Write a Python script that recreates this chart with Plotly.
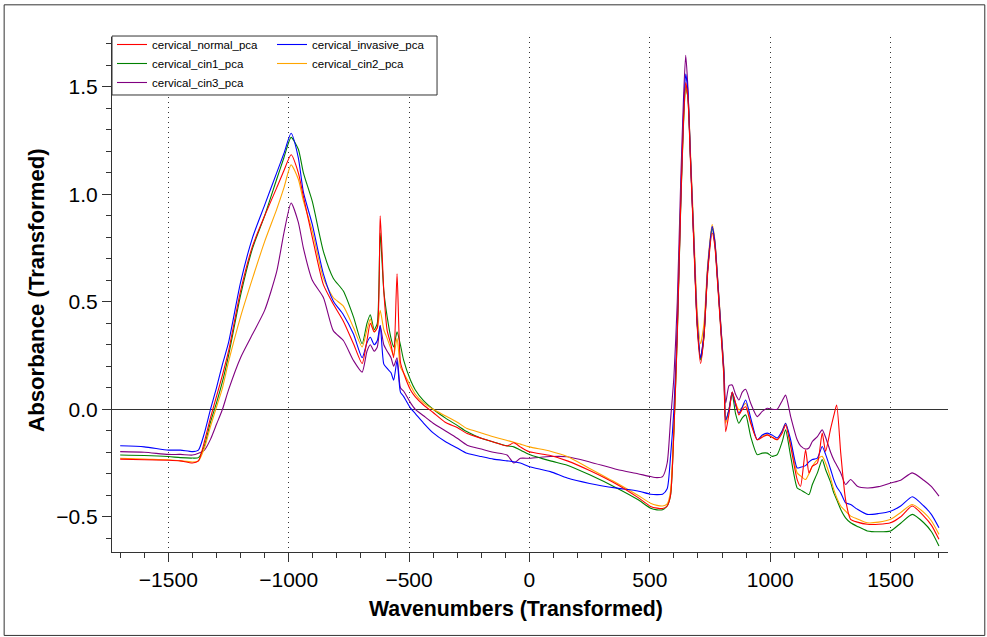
import plotly.graph_objects as go

# ---------------- data ----------------
WAVENUMBER = [
    -1700, -1600, -1500, -1450, -1400, -1375, -1350, -1325, -1300, -1275,
    -1250, -1200, -1150, -1100, -1050, -1020, -990, -960, -939, -902,
    -856, -815, -773, -731, -695, -675, -661, -645, -632, -620,
    -605, -591, -575, -564, -550, -536, -523, -494, -474, -440,
    -400, -350, -300, -259, -200, -150, -93, -65, -38, 0,
    87, 157, 250, 364, 450, 503, 530, 553, 572, 586,
    600, 614, 628, 640, 649, 658, 669, 683, 697, 711,
    725, 740, 759, 770, 780, 794, 808, 815, 829, 842,
    856, 870, 884, 898, 919, 946, 967, 988, 1008, 1029,
    1050, 1064, 1085, 1112, 1126, 1147, 1161, 1175, 1196, 1216,
    1230, 1251, 1264, 1276, 1293, 1313, 1334, 1362, 1403, 1450,
    1500, 1542, 1590, 1638, 1670, 1701,
]

CERVICAL_NORMAL = [
    -0.232, -0.235, -0.237, -0.24, -0.25, -0.24, -0.15, -0.04, 0.06, 0.16,
    0.27, 0.55, 0.76, 0.90, 1.03, 1.11, 1.184, 1.10, 0.99, 0.80,
    0.58, 0.49, 0.41, 0.305, 0.213, 0.32, 0.40, 0.36, 0.38, 0.90,
    0.55, 0.366, 0.30, 0.24, 0.63, 0.22, 0.17, 0.09, 0.058, 0.02,
    -0.015, -0.06, -0.085, -0.113, -0.135, -0.152, -0.171, -0.156, -0.175, -0.198,
    -0.215, -0.24, -0.285, -0.35, -0.41, -0.452, -0.46, -0.462, -0.45, -0.40,
    -0.10, 0.35, 0.94, 1.35, 1.52, 1.45, 1.15, 0.76, 0.38, 0.213,
    0.34, 0.63, 0.82, 0.76, 0.61, 0.38, 0.14, -0.104, -0.02, 0.08,
    0.03, -0.026, 0.0, 0.012, -0.065, -0.142, -0.13, -0.119, -0.13, -0.142,
    -0.11, -0.073, -0.173, -0.327, -0.358, -0.188, -0.296, -0.265, -0.25, -0.111,
    -0.196, -0.09, -0.03, 0.02, -0.204, -0.42, -0.512, -0.525, -0.535, -0.535,
    -0.528, -0.50, -0.45, -0.497, -0.54, -0.605,
]

CERVICAL_INVASIVE = [
    -0.170, -0.175, -0.19, -0.19, -0.197, -0.19, -0.11, 0.0, 0.10, 0.21,
    0.31, 0.59, 0.80, 0.95, 1.10, 1.19, 1.284, 1.17, 1.01, 0.86,
    0.63, 0.504, 0.44, 0.35, 0.24, 0.31, 0.335, 0.30, 0.32, 0.39,
    0.21, 0.19, 0.17, 0.135, 0.227, 0.08, 0.06, 0.005, -0.02, -0.064,
    -0.11, -0.15, -0.18, -0.205, -0.22, -0.232, -0.24, -0.244, -0.25, -0.267,
    -0.29, -0.32, -0.345, -0.367, -0.38, -0.395, -0.397, -0.395, -0.37, -0.22,
    0.0, 0.38, 0.96, 1.38, 1.56, 1.48, 1.17, 0.78, 0.40, 0.24,
    0.35, 0.65, 0.85, 0.78, 0.63, 0.40, 0.167, -0.05, 0.0, 0.08,
    0.02, -0.018, 0.01, 0.043, -0.04, -0.142, -0.12, -0.111, -0.12, -0.134,
    -0.10, -0.065, -0.142, -0.273, -0.27, -0.262, -0.245, -0.234, -0.227, -0.173,
    -0.21, -0.28, -0.327, -0.36, -0.389, -0.435, -0.443, -0.465, -0.489, -0.485,
    -0.474, -0.45, -0.407, -0.45, -0.49, -0.551,
]

CERVICAL_CIN1 = [
    -0.213, -0.215, -0.22, -0.225, -0.227, -0.225, -0.17, -0.06, 0.03, 0.13,
    0.25, 0.53, 0.75, 0.90, 1.07, 1.17, 1.265, 1.21, 1.10, 0.967,
    0.735, 0.61, 0.55, 0.43, 0.305, 0.40, 0.44, 0.37, 0.40, 0.82,
    0.55, 0.43, 0.33, 0.29, 0.36, 0.30, 0.23, 0.135, 0.09, 0.04,
    0.0, -0.04, -0.075, -0.105, -0.135, -0.152, -0.17, -0.175, -0.19, -0.21,
    -0.24, -0.26, -0.305, -0.367, -0.42, -0.46, -0.468, -0.467, -0.45, -0.40,
    -0.10, 0.34, 0.93, 1.33, 1.50, 1.45, 1.16, 0.78, 0.39, 0.23,
    0.34, 0.64, 0.84, 0.77, 0.62, 0.39, 0.16, -0.05, 0.0, 0.074,
    -0.02, -0.065, -0.04, -0.026, -0.127, -0.211, -0.204, -0.204, -0.219, -0.211,
    -0.15, -0.096, -0.219, -0.366, -0.375, -0.389, -0.397, -0.35, -0.296, -0.234,
    -0.28, -0.34, -0.389, -0.42, -0.466, -0.505, -0.528, -0.545, -0.566, -0.57,
    -0.566, -0.53, -0.489, -0.528, -0.57, -0.636,
]

CERVICAL_CIN2 = [
    -0.228, -0.232, -0.235, -0.24, -0.245, -0.24, -0.18, -0.08, 0.01, 0.10,
    0.22, 0.43, 0.61, 0.78, 0.93, 1.03, 1.137, 1.07, 0.97, 0.83,
    0.61, 0.52, 0.48, 0.38, 0.29, 0.37, 0.42, 0.36, 0.38, 0.46,
    0.37, 0.33, 0.28, 0.25, 0.33, 0.196, 0.17, 0.11, 0.07, 0.03,
    0.0, -0.03, -0.06, -0.09, -0.11, -0.128, -0.145, -0.153, -0.162, -0.175,
    -0.195, -0.22, -0.275, -0.344, -0.40, -0.437, -0.447, -0.45, -0.44, -0.38,
    -0.08, 0.36, 0.95, 1.34, 1.50, 1.46, 1.19, 0.82, 0.45, 0.305,
    0.40, 0.67, 0.86, 0.79, 0.64, 0.41, 0.18, -0.065, 0.0, 0.08,
    0.03, -0.003, 0.01, 0.028, -0.057, -0.142, -0.125, -0.119, -0.13, -0.142,
    -0.10, -0.065, -0.157, -0.296, -0.31, -0.327, -0.30, -0.265, -0.234, -0.219,
    -0.25, -0.32, -0.373, -0.41, -0.45, -0.474, -0.497, -0.51, -0.528, -0.525,
    -0.512, -0.48, -0.443, -0.48, -0.52, -0.582,
]

CERVICAL_CIN3 = [
    -0.197, -0.20, -0.21, -0.21, -0.213, -0.205, -0.19, -0.14, -0.07, 0.0,
    0.09, 0.24, 0.35, 0.46, 0.64, 0.82, 0.96, 0.87, 0.75, 0.60,
    0.52, 0.366, 0.32, 0.227, 0.173, 0.27, 0.30, 0.27, 0.29, 0.39,
    0.30, 0.27, 0.24, 0.20, 0.24, 0.10, 0.085, 0.03, 0.0, -0.03,
    -0.065, -0.10, -0.135, -0.167, -0.185, -0.20, -0.213, -0.25, -0.228, -0.228,
    -0.22, -0.221, -0.245, -0.28, -0.30, -0.313, -0.318, -0.313, -0.25, -0.05,
    0.15, 0.50, 1.05, 1.45, 1.647, 1.50, 1.17, 0.78, 0.40, 0.24,
    0.35, 0.65, 0.85, 0.78, 0.63, 0.40, 0.18, 0.028, 0.11, 0.113,
    0.07, 0.043, 0.08, 0.093, 0.028, -0.034, -0.01, 0.005, 0.0, 0.0,
    0.04, 0.066, -0.034, -0.142, -0.17, -0.185, -0.18, -0.15, -0.127, -0.096,
    -0.13, -0.20, -0.235, -0.26, -0.296, -0.35, -0.327, -0.358, -0.366, -0.36,
    -0.343, -0.33, -0.296, -0.33, -0.36, -0.404,
]

SERIES_NAMES = ["cervical_normal_pca", "cervical_invasive_pca", "cervical_cin1_pca",
                "cervical_cin2_pca", "cervical_cin3_pca"]
SERIES_VALUES = [CERVICAL_NORMAL, CERVICAL_INVASIVE, CERVICAL_CIN1,
                 CERVICAL_CIN2, CERVICAL_CIN3]
SERIES_COLORS = ["#ff0000", "#0000ff", "#008000", "#ffa500", "#800080"]
SERIES_LEGEND = ["legend", "legend2", "legend", "legend2", "legend"]

X_TICK_VALUES = [-1500, -1000, -500, 0, 500, 1000, 1500]
X_TICK_LABELS = ["\u22121500", "\u22121000", "\u2212500", "0", "500", "1000", "1500"]
Y_TICK_VALUES = [-0.5, 0.0, 0.5, 1.0, 1.5]
Y_TICK_LABELS = ["\u22120.5", "0.0", "0.5", "1.0", "1.5"]

for v in SERIES_VALUES:
    assert len(v) == len(WAVENUMBER), (len(v), len(WAVENUMBER))

# ---------------- figure ----------------
FONT = "Liberation Sans, Arial, sans-serif"
X_RANGE = [-1734, 1738.5]
Y_RANGE = [-0.664, 1.732]

fig = go.Figure()
draw_order = [4, 2, 3, 1, 0]  # normal (red) drawn last, on top
for i in draw_order:
    fig.add_trace(go.Scatter(
        x=WAVENUMBER, y=SERIES_VALUES[i], mode="lines", name=SERIES_NAMES[i],
        line=dict(color=SERIES_COLORS[i], width=1.1, shape="spline", smoothing=0.6),
        legendrank=i + 1, legend=SERIES_LEGEND[i],
    ))

axis_common = dict(tickcolor="#333", tickwidth=1, showgrid=False, zeroline=False)
legend_common = dict(
    orientation="v", y=1.0136, yanchor="top", xanchor="left",
    bgcolor="rgba(0,0,0,0)", borderwidth=0,
    font=dict(family=FONT, size=11.5, color="black"),
    itemwidth=30, traceorder="normal", tracegroupgap=0,
)

fig.update_layout(
    width=987, height=637,
    margin=dict(l=112, r=39, t=37, b=85, pad=0),
    paper_bgcolor="white", plot_bgcolor="white",
    font=dict(family=FONT, color="black"),
    showlegend=True,
    legend=dict(x=0.0, **legend_common),
    legend2=dict(x=0.1914, **legend_common),
    xaxis=dict(
        range=X_RANGE, tickmode="array", tickvals=X_TICK_VALUES, ticktext=X_TICK_LABELS,
        ticks="outside", ticklen=9, tickcolor="#333",
        tickfont=dict(family=FONT, size=21, color="black"),
        showline=True, linecolor="#333", linewidth=1,
        showgrid=True, gridcolor="#333", griddash="1px,4px", gridwidth=1,
        zeroline=False,
        minor=dict(dtick=100, tick0=0, ticks="outside", ticklen=5, tickcolor="#333", showgrid=False),
    ),
    yaxis=dict(
        range=Y_RANGE, tickmode="array", tickvals=Y_TICK_VALUES, ticktext=Y_TICK_LABELS,
        ticks="outside", ticklen=9, tickcolor="#333",
        tickfont=dict(family=FONT, size=21, color="black"),
        showline=True, linecolor="#333", linewidth=1,
        showgrid=False, zeroline=True, zerolinecolor="#333", zerolinewidth=1,
        minor=dict(dtick=0.1, tick0=0, ticks="outside", ticklen=5, tickcolor="#333", showgrid=False),
    ),
    xaxis2=dict(
        overlaying="x", anchor="y", side="bottom", range=X_RANGE,
        tickmode="array", tickvals=X_TICK_VALUES, ticks="inside", ticklen=8,
        showticklabels=False, showline=False,
        minor=dict(dtick=100, tick0=0, ticks="inside", ticklen=4, tickcolor="#333", showgrid=False),
        **axis_common,
    ),
    xaxis3=dict(
        overlaying="x", anchor="y", side="top", range=X_RANGE,
        tickmode="array", tickvals=X_TICK_VALUES, ticks="inside", ticklen=7,
        showticklabels=False, showline=True, linecolor="#888", linewidth=1,
        minor=dict(dtick=100, tick0=0, ticks="inside", ticklen=4, tickcolor="#555", showgrid=False),
        **axis_common,
    ),
    yaxis2=dict(
        overlaying="y", anchor="x", side="left", range=Y_RANGE,
        tickmode="array", tickvals=Y_TICK_VALUES, ticks="inside", ticklen=8,
        showticklabels=False, showline=False,
        minor=dict(dtick=0.1, tick0=0, ticks="inside", ticklen=4, tickcolor="#333", showgrid=False),
        **axis_common,
    ),
    yaxis3=dict(
        overlaying="y", anchor="x", side="right", range=Y_RANGE,
        ticks="", showticklabels=False, showline=True, linecolor="#888", linewidth=1,
        showgrid=False, zeroline=False,
    ),
    annotations=[
        dict(text="<b>Wavenumbers (Transformed)</b>", xref="paper", yref="paper",
             x=0.483, y=-0.111, xanchor="center", yanchor="middle", showarrow=False,
             font=dict(family=FONT, size=21.3, color="black")),
        dict(text="<b>Absorbance (Transformed)</b>", xref="paper", yref="paper",
             x=-0.0897, y=0.509, xanchor="center", yanchor="middle", showarrow=False,
             textangle=-90, font=dict(family=FONT, size=22.2, color="black")),
    ],
    shapes=[
        # outer picture frame
        dict(type="rect", xref="paper", yref="paper", x0=-0.129, x1=1.044,
             y0=-0.162, y1=1.0625, line=dict(color="#333", width=1), layer="below"),
        # legend box
        dict(type="rect", xref="paper", yref="paper", x0=0.0, x1=0.3888,
             y0=0.8874, y1=1.0019, line=dict(color="#333", width=1),
             fillcolor="white", layer="above"),
    ],
)

fig.write_html("out.html", config={"displayModeBar": False},
               post_script="document.body.style.margin='0px';")
